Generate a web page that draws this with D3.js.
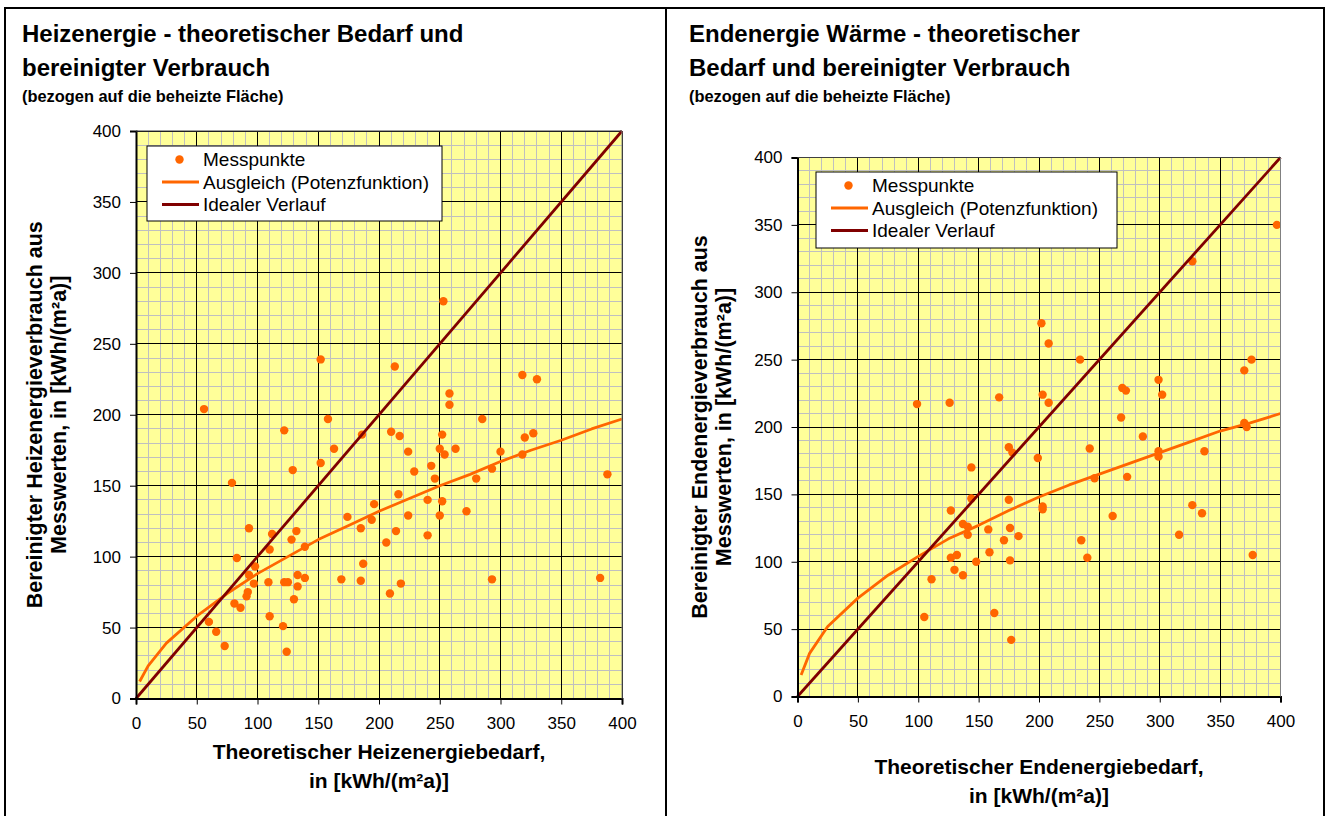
<!DOCTYPE html>
<html lang="de">
  <head>
    <meta charset="utf-8">
    <title>Heizenergie und Endenergie - Bedarf und Verbrauch</title>
    <script src="https://d3js.org/d3.v7.min.js"></script>
    <style>
      body { margin: 0; background: #fff; }
      svg text { font-family: Arial, "Liberation Sans", sans-serif; fill: #000; }
      .tick text { font-size: 17px; }
      .grid-minor line { stroke: #c0c0c0; stroke-width: 1; shape-rendering: crispEdges; }
      .grid-major line { stroke: #000; stroke-width: 1; shape-rendering: crispEdges; }
    </style>
  </head>
  <body>
    <div id="chart"></div>

    <script type="text/javascript">
      "use strict"

      // Werte: [theoretischer Bedarf, bereinigter Verbrauch]
      const heizMesspunkte = [
        [56,204],[152,239],[158,197],[253,280],[213,234],[258,215],[258,207],[318,228],[330,225],[285,197],[388,158],
        [122,189],[186,186],[163,176],[152,166],[129,161],[79,152],[196,137],[174,128],[185,120],[194,126],
        [93,120],[112,116],[132,118],[128,112],[110,105],[139,107],[83,99],[98,93],[93,87],[187,95],
        [133,87],[139,85],[97,81],[109,82],[122,82],[125,82],[133,79],[169,84],[185,83],[92,75],[91,72],
        [130,70],[81,67],[86,64],[110,58],[60,54],[66,47],[121,51],[73,37],[124,33],
        [210,188],[217,185],[252,186],[224,174],[250,176],[254,172],[263,176],[320,184],[327,187],[300,174],[318,172],
        [243,164],[229,160],[246,155],[293,162],[280,155],[216,144],[240,140],[252,139],[272,132],[224,129],[250,129],
        [214,118],[206,110],[240,115],[293,84],[382,85],[218,81],[209,74]
      ]
      const heizAusgleich = [
        [3,12],[10,23],[25,39],[50,58],[75,74],[100,88],[125,100],[150,112],[175,122],[200,132],
        [225,141],[250,150],[275,158],[300,167],[325,175],[350,182],[375,190],[400,197]
      ]

      const endMesspunkte = [
        [99,217],[126,218],[167,222],[202,277],[203,224],[397,350],[327,323],[208,262],[234,250],[376,250],[370,242],
        [208,218],[269,229],[272,227],[299,235],[302,224],[268,207],[286,193],[370,203],[372,200],
        [175,185],[178,181],[144,170],[199,177],[144,147],[175,146],[127,138],[137,128],[141,126],[141,120],
        [158,124],[176,125],[183,119],[171,116],[159,107],[127,103],[132,105],[148,100],[176,101],[130,94],
        [137,90],[111,87],[163,62],[105,59],[177,42],[242,184],[246,162],[273,163],[299,182],[299,178],[337,182],
        [203,141],[203,139],[261,134],[327,142],[335,136],[235,116],[240,103],[316,120],[377,105]
      ]
      const endAusgleich = [
        [3,16],[10,32],[25,52],[50,73],[75,90],[100,104],[125,117],[150,127],[175,138],[200,148],
        [225,157],[250,165],[275,173],[300,181],[325,189],[350,197],[375,203],[400,210]
      ]

      const idealerVerlauf = [[0,0],[400,400]]
      const achsenBereich = [0, 400]
      const hauptTicks = [0, 50, 100, 150, 200, 250, 300, 350, 400]
      const nebenTicks = d3.range(0, 401, 10)
      const legendenTexte = ["Messpunkte", "Ausgleich (Potenzfunktion)", "Idealer Verlauf"]

      const farbe = { punkte: "#ff6600", ausgleich: "#ff6600", ideal: "#800000", flaeche: "#ffff99" }

      const svg = d3.select("#chart").append("svg")
        .attr("width", 1329)
        .attr("height", 816)

      // Rahmen der beiden Diagramme
      svg.append("rect")
        .attr("x", 5).attr("y", 8)
        .attr("width", 1319).attr("height", 830)
        .attr("fill", "none").attr("stroke", "#000").attr("stroke-width", 2)
      svg.append("line")
        .attr("x1", 666).attr("x2", 666).attr("y1", 8).attr("y2", 816)
        .attr("stroke", "#000").attr("stroke-width", 2)

      function zeichneDiagramm(cfg) {
        const x = d3.scaleLinear().domain(achsenBereich).range([cfg.left, cfg.right])
        const y = d3.scaleLinear().domain(achsenBereich).range([cfg.bottom, cfg.top])
        const g = svg.append("g")

        // Titel
        const titel = g.append("g")
        cfg.titel.forEach((t, i) => {
          titel.append("text")
            .attr("x", cfg.titelX).attr("y", [42, 76][i])
            .style("font-size", "24px").style("font-weight", "bold")
            .text(t)
        })
        titel.append("text")
          .attr("x", cfg.titelX).attr("y", 102)
          .style("font-size", "16.4px").style("font-weight", "bold")
          .text("(bezogen auf die beheizte Fläche)")

        // Zeichenfläche
        g.append("rect")
          .attr("x", cfg.left).attr("y", cfg.top)
          .attr("width", cfg.right - cfg.left).attr("height", cfg.bottom - cfg.top)
          .attr("fill", farbe.flaeche)

        const minor = g.append("g").attr("class", "grid-minor")
        minor.selectAll("line.v").data(nebenTicks.filter(d => d % 50 !== 0)).enter()
          .append("line").attr("class", "v")
          .attr("x1", d => x(d)).attr("x2", d => x(d))
          .attr("y1", cfg.top).attr("y2", cfg.bottom)
        minor.selectAll("line.h").data(nebenTicks.filter(d => d % 50 !== 0)).enter()
          .append("line").attr("class", "h")
          .attr("y1", d => y(d)).attr("y2", d => y(d))
          .attr("x1", cfg.left).attr("x2", cfg.right)

        const major = g.append("g").attr("class", "grid-major")
        major.selectAll("line.v").data(hauptTicks).enter()
          .append("line").attr("class", "v")
          .attr("x1", d => x(d)).attr("x2", d => x(d))
          .attr("y1", cfg.top).attr("y2", cfg.bottom)
        major.selectAll("line.h").data(hauptTicks).enter()
          .append("line").attr("class", "h")
          .attr("y1", d => y(d)).attr("y2", d => y(d))
          .attr("x1", cfg.left).attr("x2", cfg.right)

        // Messpunkte
        g.append("g").selectAll("circle")
          .data(cfg.punkte)
          .enter()
            .append("circle")
            .attr("cx", d => x(d[0]))
            .attr("cy", d => y(d[1]))
            .attr("r", 4.2)
            .attr("fill", farbe.punkte)

        const linie = d3.line().x(d => x(d[0])).y(d => y(d[1]))
        g.append("path").datum(cfg.ausgleich)
          .attr("d", linie).attr("fill", "none")
          .attr("stroke", farbe.ausgleich).attr("stroke-width", 2.8)
          .attr("stroke-linejoin", "round")
        g.append("path").datum(idealerVerlauf)
          .attr("d", linie).attr("fill", "none")
          .attr("stroke", farbe.ideal).attr("stroke-width", 2.8)

        // Achsen
        const xAchse = g.append("g")
          .attr("transform", "translate(0," + cfg.bottom + ")")
          .call(d3.axisBottom(x).tickValues(hauptTicks).tickSize(6).tickPadding(12).tickFormat(d3.format("d")))
        const yAchse = g.append("g")
          .attr("transform", "translate(" + cfg.left + ",0)")
          .call(d3.axisLeft(y).tickValues(hauptTicks).tickSize(6).tickPadding(9).tickFormat(d3.format("d")))
        ;[xAchse, yAchse].forEach(a => {
          a.select(".domain").attr("stroke", "#000").attr("stroke-width", 2)
          a.selectAll(".tick line").attr("stroke", "#000")
          a.selectAll(".tick text").style("font-family", "Arial, 'Liberation Sans', sans-serif")
        })
        g.append("line")
          .attr("x1", cfg.left).attr("x2", cfg.right).attr("y1", cfg.top).attr("y2", cfg.top)
          .attr("stroke", "#404040").attr("stroke-width", 1)
        g.append("line")
          .attr("x1", cfg.right).attr("x2", cfg.right).attr("y1", cfg.top).attr("y2", cfg.bottom)
          .attr("stroke", "#808080").attr("stroke-width", 1)

        // Achsentitel
        const mitteY = (cfg.top + cfg.bottom) / 2
        cfg.yTitel.forEach((t, i) => {
          g.append("text")
            .attr("transform", "translate(" + cfg.yTitelX[i] + "," + mitteY + ") rotate(-90)")
            .attr("text-anchor", "middle")
            .style("font-size", "21.5px").style("font-weight", "bold")
            .text(t)
        })
        const mitteX = (cfg.left + cfg.right) / 2
        cfg.xTitel.forEach((t, i) => {
          g.append("text")
            .attr("x", mitteX).attr("y", cfg.xTitelY[i])
            .attr("text-anchor", "middle")
            .style("font-size", "21px").style("font-weight", "bold")
            .text(t)
        })

        // Legende
        const L = cfg.legende
        const leg = g.append("g").attr("transform", "translate(" + L.x + "," + L.y + ")")
        leg.append("rect")
          .attr("width", L.w).attr("height", L.h)
          .attr("fill", "#fff").attr("stroke", "#000").attr("stroke-width", 1)
        legendenTexte.forEach((t, i) => {
          const ry = 13.5 + i * 22.5
          if (i === 0) {
            leg.append("circle").attr("cx", 32.5).attr("cy", ry).attr("r", 4.2).attr("fill", farbe.punkte)
          } else {
            leg.append("line")
              .attr("x1", 15).attr("x2", 52).attr("y1", ry).attr("y2", ry)
              .attr("stroke", i === 1 ? farbe.ausgleich : farbe.ideal).attr("stroke-width", 2.8)
          }
          leg.append("text")
            .attr("x", 56).attr("y", ry).attr("dy", "0.35em")
            .style("font-size", "19px")
            .text(t)
        })
      }

      zeichneDiagramm({
        left: 136, right: 622, top: 131, bottom: 698.5,
        titelX: 22,
        titel: ["Heizenergie - theoretischer Bedarf und", "bereinigter Verbrauch"],
        yTitel: ["Bereinigter Heizenergieverbrauch aus", "Messwerten, in [kWh/(m²a)]"],
        yTitelX: [42, 66],
        xTitel: ["Theoretischer Heizenergiebedarf,", "in [kWh/(m²a)]"],
        xTitelY: [759, 788],
        punkte: heizMesspunkte,
        ausgleich: heizAusgleich,
        legende: { x: 147, y: 146, w: 295, h: 75 }
      })

      zeichneDiagramm({
        left: 797.5, right: 1280.5, top: 157.5, bottom: 696.5,
        titelX: 689,
        titel: ["Endenergie Wärme - theoretischer", "Bedarf und bereinigter Verbrauch"],
        yTitel: ["Bereinigter Endenergieverbrauch aus", "Messwerten, in [kWh/(m²a)]"],
        yTitelX: [707, 731],
        xTitel: ["Theoretischer Endenergiebedarf,", "in [kWh/(m²a)]"],
        xTitelY: [774, 803],
        punkte: endMesspunkte,
        ausgleich: endAusgleich,
        legende: { x: 816, y: 172, w: 301, h: 76 }
      })
    </script>
  </body>
</html>
